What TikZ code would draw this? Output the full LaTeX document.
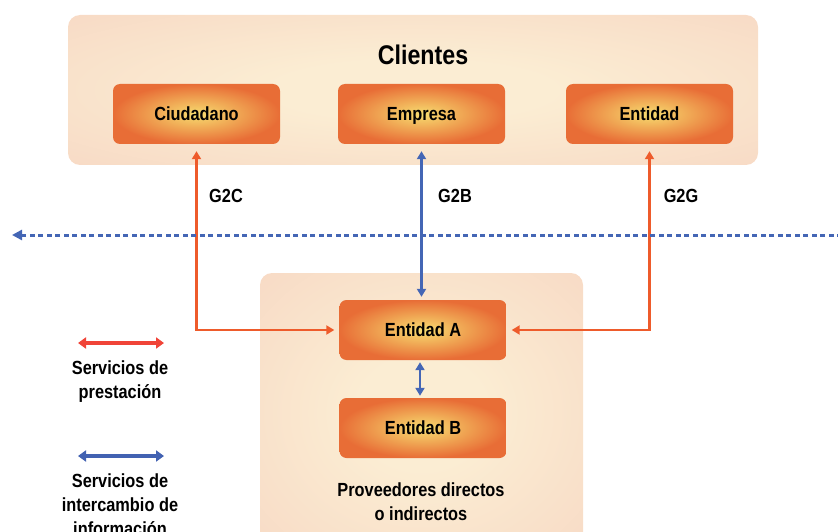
\documentclass[tikz,border=0pt]{standalone}
\usepackage{fontspec}
\setmainfont[FakeStretch=0.86]{Liberation Sans}
\usetikzlibrary{arrows.meta,shadings}
\definecolor{grpin}{HTML}{FBEDD3}
\definecolor{grpout}{HTML}{F6D0BE}
\definecolor{entin}{HTML}{F7DD70}
\definecolor{entout}{HTML}{E86D36}
\definecolor{oline}{HTML}{EE5B2B}
\definecolor{bline}{HTML}{4466B5}
\definecolor{legred}{HTML}{F04438}
\definecolor{legblue}{HTML}{4262B2}
\pgfdeclareradialshading{grpshade}{\pgfpoint{0bp}{0bp}}{color(0bp)=(grpin); color(10bp)=(grpin); color(50bp)=(grpout)}
\pgfdeclareradialshading{entshade}{\pgfpoint{0bp}{0bp}}{color(0bp)=(entin); color(25bp)=(entout); color(50bp)=(entout)}
\tikzset{
  group/.style={rectangle, rounded corners=12pt, shading=grpshade, draw=none},
  entbox/.style={rectangle, rounded corners=7pt, shading=entshade, draw=none,
    minimum width=167pt, minimum height=60pt, text height=13pt, text depth=0pt,
    font=\bfseries\fontsize{19}{24}\selectfont},
  lbl/.style={font=\bfseries\fontsize{19}{24}\selectfont, align=center},
  oarr/.style={draw=oline, line width=2.6pt, {Triangle[width=9pt,length=8pt]}-{Triangle[width=9pt,length=8pt]}},
  barr/.style={draw=bline, line width=2.6pt, {Triangle[width=9pt,length=8pt]}-{Triangle[width=9pt,length=8pt]}},
  legarr/.style={line width=4pt, {Triangle[width=11pt,length=8pt]}-{Triangle[width=11pt,length=8pt]}}
}
\begin{document}
\begin{tikzpicture}[x=1pt,y=-1pt]
\useasboundingbox (0,0) rectangle (838,532);
\clip (0,0) rectangle (838,532);
% groups
\node[group, minimum width=690pt, minimum height=150pt] (cli) at (413,90) {};
\node[group, minimum width=323pt, minimum height=280pt] (prov) at (421.5,413) {};
\node[font=\bfseries\fontsize{27}{30}\selectfont] (clit) at (423,55) {Clientes};
% entities
\node[entbox] (ciu) at (196.5,114) {Ciudadano};
\node[entbox] (emp) at (421.5,114) {Empresa};
\node[entbox] (ent) at (649.5,114) {Entidad};
\node[entbox] (ea) at (423,330) {Entidad A};
\node[entbox] (eb) at (423,428) {Entidad B};
\node[lbl, text depth=0pt] (provt) at (421,502) {Proveedores directos\\o indirectos};
% connectors
\draw[oarr, shorten <=7pt, shorten >=5pt] (ciu.south) |- (ea.west);
\draw[oarr, shorten <=7pt, shorten >=5pt] (ent.south) |- (ea.east);
\draw[barr, shorten <=7pt, shorten >=3pt] (emp.south) -- (emp.south |- ea.north);
\draw[barr, shorten <=2pt, shorten >=2pt] ([xshift=-3pt]ea.south) -- ([xshift=-3pt]eb.north);
% labels
\node[lbl] (g2c) at (226,196) {G2C};
\node[lbl] (g2b) at (455,196) {G2B};
\node[lbl] (g2g) at (681,196) {G2G};
% dotted boundary
\coordinate (dr) at (842,235);
\coordinate (dl) at (12,235);
\draw[draw=bline, line width=3pt, dash pattern=on 5pt off 3.5pt, -{Triangle[width=10pt,length=10pt]}] (dr) -- (dl);
% legend
\coordinate (r1) at (78,343);
\coordinate (r2) at (164,343);
\draw[legarr, draw=legred] (r1) -- (r2);
\node[lbl, text depth=0pt] (legp) at (120,380) {Servicios de\\prestación};
\coordinate (b1) at (78,456);
\coordinate (b2) at (164,456);
\draw[legarr, draw=legblue] (b1) -- (b2);
\node[lbl, text depth=0pt] (legi) at (120,505) {Servicios de\\intercambio de\\información};
\end{tikzpicture}
\end{document}
